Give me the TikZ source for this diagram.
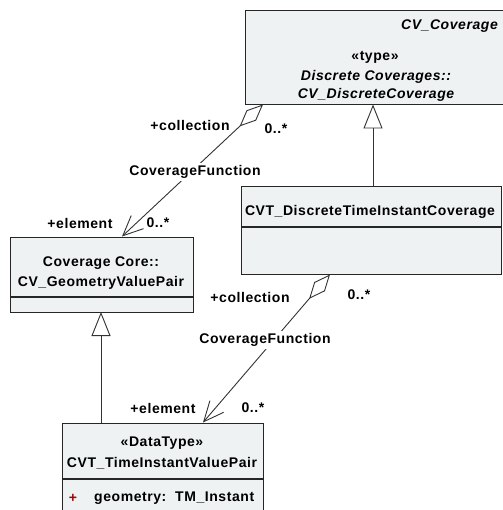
\documentclass[tikz,border=0pt]{standalone}
\usepackage{fontspec}
\setmainfont{Liberation Sans}[LetterSpace=4]
\usetikzlibrary{arrows.meta,calc}
\definecolor{boxfill}{RGB}{238,242,242}
\definecolor{plusred}{RGB}{150,10,10}
\begin{document}
\begin{tikzpicture}[x=1pt,y=-1pt,
  box/.style={draw=black!85, fill=boxfill, line width=1.1pt, inner sep=0pt, anchor=north west},
  sep/.style={draw=black!85, line width=1.1pt},
  lbl/.style={font=\fontsize{14}{16}\selectfont\bfseries, inner sep=1pt},
  ilbl/.style={font=\fontsize{14}{16}\selectfont\bfseries\itshape, inner sep=1pt},
  conn/.style={draw=black!80, line width=0.9pt},
  gen/.style={conn, -{Triangle[open, length=24pt, width=19pt]}},
  agg/.style={conn, {Diamond[open, length=32pt, width=14pt]}-{Straight Barb[length=20pt, width=18pt]}},
]
\useasboundingbox (0,0) rectangle (502,510);
% boxes
\node[box, minimum width=262, minimum height=94] (A) at (245,10) {};
\node[box, minimum width=260, minimum height=88] (B) at (241,186) {};
\node[box, minimum width=183, minimum height=75] (C) at (10,237) {};
\node[box, minimum width=201, minimum height=100] (D) at (62,423) {};
% separators
\draw[sep] ($(B.north west)+(0,41)$) -- ($(B.north east)+(0,41)$);
\draw[sep] ($(C.north west)+(0,60)$) -- ($(C.north east)+(0,60)$);
\draw[sep] ($(D.north west)+(0,56)$) -- ($(D.north east)+(0,56)$);
% texts in boxes
\node[ilbl, anchor=east] (tA1) at (499,26) {CV\_Coverage};
\node[lbl] (tA2) at (375,57) {«type»};
\node[ilbl] (tA3) at (376,77) {Discrete Coverages::};
\node[ilbl] (tA4) at (376,95) {CV\_DiscreteCoverage};
\node[lbl] (tB1) at (370,212) {CVT\_DiscreteTimeInstantCoverage};
\node[lbl] (tC1) at (101,263) {Coverage Core::};
\node[lbl] (tC2) at (101,283) {CV\_GeometryValuePair};
\node[lbl] (tD1) at (162,443) {«DataType»};
\node[lbl] (tD2) at (162,463) {CVT\_TimeInstantValuePair};
\node[lbl, text=plusred] (tD3) at (73,498) {+};
\node[lbl, anchor=west] (tD4) at (93,498) {geometry:\ \ TM\_Instant};
% connector end points
\coordinate (gA) at (373,104.5);
\coordinate (gB) at (373,186);
\coordinate (gC) at (101,312);
\coordinate (gD) at (101,423);
\coordinate (aA) at (263,104.5);
\coordinate (eC) at (122,236.5);
\coordinate (aB) at (330,274.5);
\coordinate (eD) at (203,422.5);
% generalizations
\draw[gen] (gB) -- (gA);
\draw[gen] (gD) -- (gC);
% aggregations
\draw[agg] (aA) -- (eC);
\draw[agg] (aB) -- (eD);
% connector labels
\node[lbl] (l1) at (190,125) {+collection};
\node[lbl] (l2) at (276,129) {0..*};
\node[lbl, fill=white, inner sep=2pt] (l3) at (195,172) {CoverageFunction};
\node[lbl] (l4) at (80,223) {+element};
\node[lbl] (l5) at (158,223) {0..*};
\node[lbl] (l6) at (250,297) {+collection};
\node[lbl] (l7) at (359,295) {0..*};
\node[lbl, fill=white, inner sep=2pt] (l8) at (265,340) {CoverageFunction};
\node[lbl] (l9) at (163,408) {+element};
\node[lbl] (l10) at (253,408) {0..*};
\end{tikzpicture}
\end{document}
